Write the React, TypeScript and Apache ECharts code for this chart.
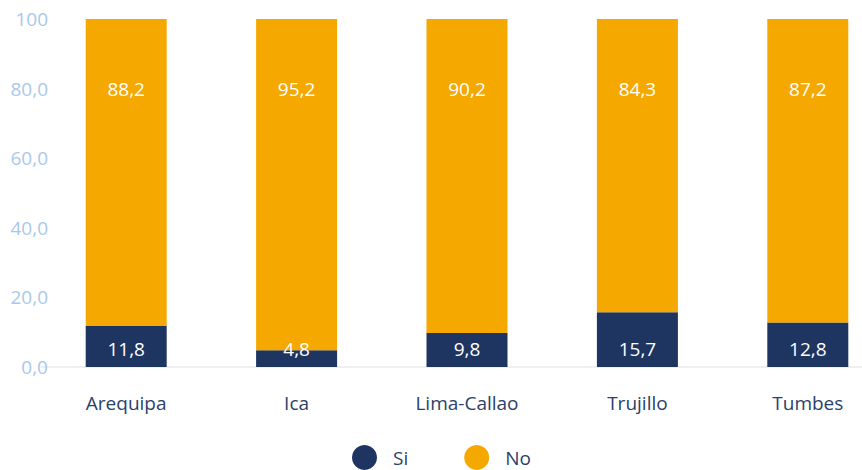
import React, { useEffect, useRef } from "react";
import * as echarts from "echarts";

const categories = ["Arequipa", "Ica", "Lima-Callao", "Trujillo", "Tumbes"];
const siValues = [11.8, 4.8, 9.8, 15.7, 12.8];
const noValues = [88.2, 95.2, 90.2, 84.3, 87.2];
const seriesNames = ["Si", "No"];

const FONT = "'Open Sans', Lato, sans-serif";
const FS = 19;
const fmt = (v: number) => (v === 100 ? "100" : v.toFixed(1).replace(".", ","));

export default function App() {
  const ref = useRef<HTMLDivElement>(null);
  useEffect(() => {
    document.body.style.margin = "0";
    const chart = echarts.init(ref.current!, null, { renderer: "svg" });
    chart.setOption({
      animation: false,
      textStyle: { fontFamily: FONT },
      grid: {
        left: 41,
        width: 852,
        top: 19,
        bottom: 103,
        containLabel: false,
        outerBoundsMode: "none",
      },
      legend: {
        data: seriesNames,
        bottom: 0,
        left: 352,
        padding: 0,
        icon: "circle",
        itemWidth: 25,
        itemHeight: 25,
        itemGap: 56,
        textStyle: { color: "#2b3f6b", fontSize: FS, fontFamily: FONT, padding: [0, 0, 0, 11] },
      },
      xAxis: {
        type: "category",
        data: categories,
        axisLine: { lineStyle: { color: "#efefef", width: 2 } },
        axisTick: { show: false },
        axisLabel: { color: "#2b3f6b", fontSize: FS, margin: 26, fontFamily: FONT },
      },
      yAxis: {
        type: "value",
        min: 0,
        max: 100,
        interval: 20,
        splitLine: { show: false },
        axisLine: { show: false },
        axisTick: { show: false },
        axisLabel: {
          color: "#a9c8ec",
          fontSize: FS,
          margin: -7,
          fontFamily: FONT,
          formatter: (v: number) => fmt(v),
        },
      },
      series: [
        {
          name: seriesNames[0],
          type: "bar",
          stack: "total",
          data: siValues,
          barWidth: 81,
          itemStyle: { color: "#1e3461" },
          label: {
            show: true,
            position: "insideBottom",
            distance: 9,
            color: "#ffffff",
            fontSize: FS,
            fontFamily: FONT,
            formatter: (p: any) => fmt(p.value),
          },
        },
        {
          name: seriesNames[1],
          type: "bar",
          stack: "total",
          data: noValues,
          barWidth: 81,
          itemStyle: { color: "#f5a800" },
          label: {
            show: true,
            position: "insideTop",
            distance: 60,
            color: "#ffffff",
            fontSize: FS,
            fontFamily: FONT,
            formatter: (p: any) => fmt(p.value),
          },
        },
      ],
    });
    return () => chart.dispose();
  }, []);
  return <div ref={ref} style={{ width: 862, height: 470 }} />;
}
